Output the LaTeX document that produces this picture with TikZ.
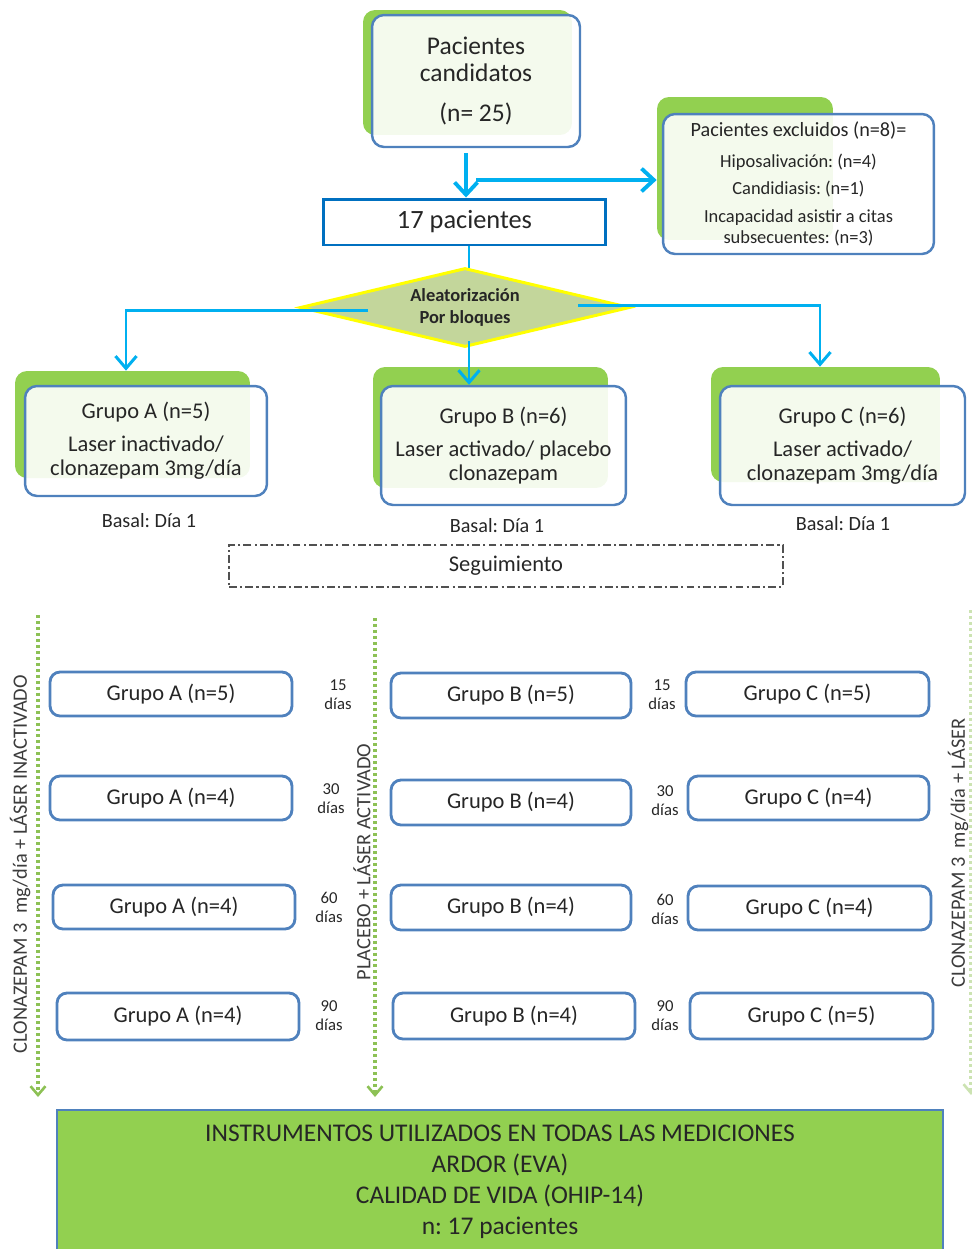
\documentclass[tikz,border=0pt]{standalone}
\usepackage{fontspec}
\setmainfont{Carlito}
\usetikzlibrary{arrows.meta,shapes.geometric}
\definecolor{lgreen}{HTML}{92D050}
\definecolor{boxblue}{HTML}{4F81BD}
\definecolor{cyanc}{HTML}{00B0F0}
\definecolor{pblue}{HTML}{0070C0}
\definecolor{dfill}{HTML}{C3D69B}
\definecolor{dgreen}{HTML}{8DC155}
\definecolor{ybord}{HTML}{FFFF00}
\definecolor{txt}{HTML}{262626}
\frenchspacing
\tikzset{
  shadowbox/.style={fill=lgreen, rounded corners=0.24cm, inner sep=0pt, draw=none},
  frontbox/.style={draw=boxblue, line width=1.4pt, rounded corners=0.24cm, fill=white, fill opacity=0.9, text opacity=1, align=center, inner sep=0pt, text=txt, font=\fontsize{12.8}{13.8}\selectfont},
  fubox/.style={draw=boxblue, line width=1.6pt, rounded corners=0.2cm, fill=white, align=center, inner sep=0pt, text=txt, font=\fontsize{12.8}{14}\selectfont},
  carrow/.style={draw=cyanc, line width=2.2pt, -{Straight Barb[length=7pt,width=13pt]}},
  carrowb/.style={draw=cyanc, line width=1.7pt, -{Straight Barb[length=7pt,width=12pt]}},
  cline/.style={draw=cyanc, line width=1.2pt},
  garrow/.style={draw=dgreen, line width=1.9pt, dash pattern=on 1.7pt off 1.7pt, -{Straight Barb[length=5pt,width=8.5pt,line width=1.5pt]}},
  lbl/.style={text=txt, inner sep=0pt, font=\fontsize{11.5}{13}\selectfont},
  daylbl/.style={text=txt, inner sep=0pt, align=center, font=\fontsize{9.5}{10.8}\selectfont},
  vlbl/.style={text=txt!90, inner sep=0pt, rotate=90, font=\fontsize{11.6}{13}\selectfont}
}
\begin{document}
\begin{tikzpicture}[x=0.02cm,y=-0.02cm]
\useasboundingbox (0,0) rectangle (972,1249);

% top box
\node[shadowbox, minimum width=4.18cm, minimum height=2.5cm] (tbg) at (467.5,72.5) {};
\node[frontbox, minimum width=4.16cm, minimum height=2.64cm, font=\fontsize{14.5}{15.5}\selectfont] (tb) at (476,81) {Pacientes\\candidatos\\[7.5pt](n= 25)};

% excluded
\node[shadowbox, minimum width=3.52cm, minimum height=2.86cm] (exg) at (745,168.5) {};
\node[frontbox, minimum width=5.42cm, minimum height=2.8cm, font=\fontsize{10.5}{11.8}\selectfont] (ex) at (798.5,184) {{\fontsize{11.5}{12}\selectfont Pacientes excluidos (n=8)=}\\[5.5pt]Hiposalivación: (n=4)\\[4pt]Candidiasis: (n=1)\\[4pt]Incapacidad asistir a citas\\subsecuentes: (n=3)};

% 17 pacientes
\node[draw=pblue, line width=1.7pt, fill=white, minimum width=5.66cm, minimum height=0.92cm, inner sep=0pt, text=txt, font=\fontsize{15}{18}\selectfont] (p17) at (464.5,222) {17 pacientes};

% arrows top
\coordinate (a0) at ([xshift=-0.2cm,yshift=-0.1cm]tb.south);
\draw[carrow] (a0) -- (a0 |- p17.north);
\coordinate (br) at (476,180);
\draw[carrow] (br) -- (br -| exg.west);

% diamond
\coordinate (ds) at (469,245);
\draw[cline] (p17.south -| ds) -- (469,270);
\node[diamond, aspect=4, draw=ybord, line width=1.7pt, fill=dfill, minimum width=6.6cm, minimum height=1.58cm, inner sep=0pt, align=center, text=txt, font=\bfseries\fontsize{10.5}{12.5}\selectfont] (dia) at (465,307.5) {Aleatorización\\Por bloques};

% groups
\node[shadowbox, minimum width=4.7cm, minimum height=2.14cm] (gaS) at (132.5,424.5) {};
\node[frontbox, minimum width=4.84cm, minimum height=2.2cm] (ga) at (146,441) {Grupo A (n=5)\\[5pt]Laser inactivado/\\clonazepam 3mg/día};
\node[shadowbox, minimum width=4.7cm, minimum height=2.42cm] (gbS) at (490.5,427.5) {};
\node[frontbox, minimum width=4.9cm, minimum height=2.38cm] (gb) at (503.5,445.5) {Grupo B (n=6)\\[5pt]Laser activado/ placebo\\clonazepam};
\node[shadowbox, minimum width=4.58cm, minimum height=2.3cm] (gcS) at (825.5,424.5) {};
\node[frontbox, minimum width=4.9cm, minimum height=2.38cm] (gc) at (842.5,445.5) {Grupo C (n=6)\\[5pt]Laser activado/\\clonazepam 3mg/día};

% diamond connectors
\coordinate (dl) at (368,310);
\coordinate (dr) at (578,305);
\coordinate (ta) at ([xshift=-0.13cm]gaS.north);
\coordinate (tc) at ([xshift=-0.11cm]gcS.north);
\coordinate (dm) at ([xshift=0.08cm]dia.south);
\draw[carrowb] (dl) -| (ta);
\draw[carrowb] (dr) -| (tc);
\draw[carrowb] ([yshift=0.14cm]dm) -- (dm |- gb.north);

% basal
\node[lbl] (bA) at (149,521) {Basal: Día 1};
\node[lbl] (bB) at (497,526) {Basal: Día 1};
\node[lbl] (bC) at (843,524) {Basal: Día 1};

% seguimiento
\node[draw=txt!80, line width=0.7pt, dash pattern=on 4.5pt off 1.8pt on 1.2pt off 1.8pt, minimum width=11.08cm, minimum height=0.84cm, inner sep=0pt, text=txt, font=\fontsize{12.8}{14}\selectfont] (seg) at (506,566) {Seguimiento};

% dotted arrows
\coordinate (l1) at (38,615); \coordinate (l2) at (38,1097);
\coordinate (m1) at (375,618); \coordinate (m2) at (375,1097);
\coordinate (r1) at (971,610); \coordinate (r2) at (971,1095);
\draw[garrow] (l1) -- (l2);
\draw[garrow] (m1) -- (m2);
\draw[garrow, draw=dgreen!45] (r1) -- (r2);

% vertical labels
\node[vlbl] (vl) at (20,864) {CLONAZEPAM 3\ \ mg/día + LÁSER INACTIVADO};
\node[vlbl] (vm) at (362,862) {PLACEBO + LÁSER ACTIVADO};
\node[vlbl] (vr) at (958,853) {CLONAZEPAM 3\ \ mg/día + LÁSER};

% follow-up boxes
\node[fubox, minimum width=4.84cm, minimum height=0.88cm] (a1) at (171,694) {Grupo A (n=5)};
\node[fubox, minimum width=4.84cm, minimum height=0.88cm] (a2) at (171,798) {Grupo A (n=4)};
\node[fubox, minimum width=4.84cm, minimum height=0.88cm] (a3) at (174,907) {Grupo A (n=4)};
\node[fubox, minimum width=4.84cm, minimum height=0.94cm] (a4) at (178,1016.5) {Grupo A (n=4)};
\node[fubox, minimum width=4.8cm, minimum height=0.9cm] (b1) at (511,695.5) {Grupo B (n=5)};
\node[fubox, minimum width=4.8cm, minimum height=0.9cm] (b2) at (511,802.5) {Grupo B (n=4)};
\node[fubox, minimum width=4.8cm, minimum height=0.9cm] (b3) at (511,907.5) {Grupo B (n=4)};
\node[fubox, minimum width=4.84cm, minimum height=0.92cm] (b4) at (514,1016) {Grupo B (n=4)};
\node[fubox, minimum width=4.86cm, minimum height=0.88cm] (c1) at (807.5,694) {Grupo C (n=5)};
\node[fubox, minimum width=4.82cm, minimum height=0.88cm] (c2) at (808.5,798) {Grupo C (n=4)};
\node[fubox, minimum width=4.86cm, minimum height=0.88cm] (c3) at (809.5,908) {Grupo C (n=4)};
\node[fubox, minimum width=4.86cm, minimum height=0.92cm] (c4) at (811.5,1016) {Grupo C (n=5)};

% day labels
\node[daylbl] (dab1) at (338,695) {15\\días};
\node[daylbl] (dab2) at (331,799) {30\\días};
\node[daylbl] (dab3) at (329,907) {60\\días};
\node[daylbl] (dab4) at (329,1016) {90\\días};
\node[daylbl] (dbc1) at (662,695) {15\\días};
\node[daylbl] (dbc2) at (665,801) {30\\días};
\node[daylbl] (dbc3) at (665,909) {60\\días};
\node[daylbl] (dbc4) at (665,1016) {90\\días};

% bottom box
\node[draw=boxblue, line width=1.6pt, fill=lgreen, minimum width=17.72cm, minimum height=2.88cm, inner sep=0pt, align=center, text=txt, font=\fontsize{14.5}{17.6}\selectfont] (bot) at (500,1182) {INSTRUMENTOS UTILIZADOS EN TODAS LAS MEDICIONES\\ARDOR (EVA)\\CALIDAD DE VIDA (OHIP-14)\\n: 17 pacientes};
\end{tikzpicture}
\end{document}
